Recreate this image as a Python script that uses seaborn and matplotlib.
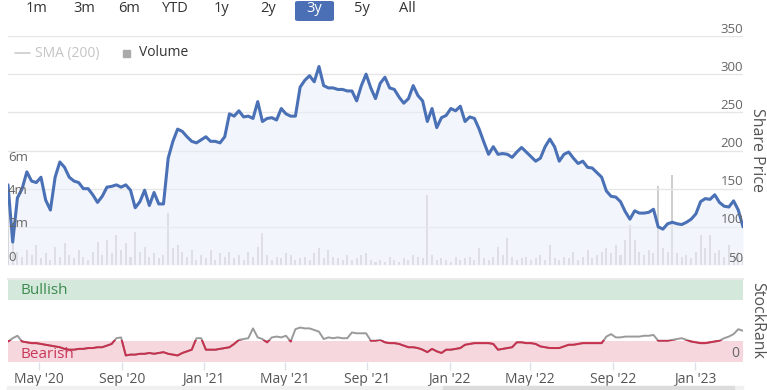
import matplotlib
matplotlib.use("Agg")
import matplotlib.pyplot as plt
import matplotlib.dates as mdates
from matplotlib.lines import Line2D
from matplotlib.patches import Rectangle, FancyBboxPatch
import numpy as np
import pandas as pd
import seaborn as sns

# weekly samples, starting mid March 2020
start_date = "2020-03-16"

share_price = [
    155, 80, 138, 150, 172, 160, 158, 165, 135, 122,
    165, 185, 178, 165, 160, 158, 150, 150, 142, 132,
    140, 152, 153, 155, 152, 155, 148, 125, 133, 148,
    128, 145, 130, 130, 190, 212, 228, 225, 218, 212,
    210, 214, 218, 212, 212, 210, 218, 248, 245, 252,
    244, 245, 242, 264, 238, 242, 243, 240, 255, 248,
    245, 245, 283, 292, 298, 290, 310, 285, 282, 282,
    280, 280, 278, 278, 265, 285, 300, 282, 268, 288,
    296, 282, 280, 270, 262, 268, 285, 272, 265, 238,
    255, 230, 243, 246, 255, 252, 258, 238, 244, 242,
    228, 211, 195, 205, 195, 196, 195, 191, 198, 204,
    198, 192, 186, 190, 205, 215, 205, 186, 195, 198,
    190, 183, 186, 178, 177, 171, 165, 147, 140, 139,
    133, 120, 110, 121, 118, 118, 119, 123, 100, 97,
    104, 106, 104, 103, 106, 110, 117, 133, 137, 136,
    142, 132, 127, 126, 134, 122, 100,
]

# weekly volume, millions of shares
volume_m = [
    4.0, 2.5, 0.8, 0.5, 0.9, 0.6, 1.2, 0.4, 0.7, 0.3,
    1.1, 0.5, 1.3, 0.6, 0.4, 0.9, 0.5, 0.3, 0.8, 1.4,
    0.6, 1.5, 0.7, 1.8, 0.9, 1.3, 0.5, 2.0, 0.8, 1.1,
    0.5, 0.7, 0.4, 0.6, 3.1, 1.0, 1.2, 0.8, 0.5, 0.9,
    0.3, 0.6, 0.4, 0.9, 0.3, 0.7, 0.5, 0.8, 0.4, 0.6,
    0.3, 0.8, 0.5, 1.1, 1.9, 0.6, 0.3, 0.5, 0.4, 0.7,
    0.6, 0.3, 0.4, 0.5, 0.3, 0.7, 1.0, 0.4, 0.9, 0.5,
    0.4, 0.3, 0.6, 0.3, 0.4, 0.6, 0.7, 0.3, 0.2, 0.3,
    0.2, 0.5, 0.3, 0.2, 0.4, 0.3, 0.6, 0.5, 0.4, 4.2,
    0.6, 0.3, 0.4, 0.3, 0.2, 0.5, 0.3, 0.4, 0.5, 0.3,
    1.0, 0.4, 0.3, 0.5, 1.1, 0.6, 1.6, 0.5, 0.3, 0.4,
    0.5, 0.3, 0.4, 0.6, 0.3, 1.2, 0.4, 0.3, 0.5, 0.4,
    0.8, 0.3, 0.5, 0.9, 0.4, 0.6, 0.8, 1.0, 0.7, 1.2,
    0.6, 1.5, 2.4, 1.5, 0.8, 0.6, 0.9, 0.7, 4.7, 1.0,
    0.8, 5.4, 0.7, 0.5, 0.6, 0.4, 0.8, 1.8, 1.0, 1.8,
    0.7, 0.9, 0.5, 1.2, 0.6, 0.8, 0.5,
]

stock_rank = [
    25, 29, 32, 25, 24, 23, 23, 22, 21, 20,
    19, 18, 16, 15, 15, 16, 16, 17, 17, 18,
    18, 20, 22, 29, 30, 8, 9, 9, 10, 10,
    11, 10, 11, 12, 10, 9, 8, 11, 13, 15,
    29, 29, 15, 15, 15, 16, 17, 18, 22, 27,
    28, 29, 41, 30, 28, 24, 30, 31, 30, 32,
    25, 40, 42, 41, 41, 39, 37, 28, 30, 29,
    30, 29, 29, 36, 35, 35, 35, 26, 26, 27,
    24, 23, 23, 22, 20, 18, 18, 17, 15, 12,
    16, 13, 11, 15, 15, 16, 17, 21, 22, 23,
    23, 23, 23, 22, 15, 16, 17, 18, 24, 24,
    23, 23, 22, 19, 18, 17, 17, 17, 19, 21,
    21, 22, 23, 23, 23, 23, 23, 31, 34, 30,
    30, 31, 31, 31, 31, 32, 32, 33, 26, 26,
    26, 27, 28, 29, 27, 25, 24, 23, 23, 24,
    25, 26, 29, 31, 34, 40, 38,
]

price_ticks = [50, 100, 150, 200, 250, 300, 350]
volume_ticks = [0, 2, 4, 6]
volume_tick_labels = ["0", "2m", "4m", "6m"]
range_buttons = ["1m", "3m", "6m", "YTD", "1y", "2y", "3y", "5y", "All"]
button_x = [37, 84, 129, 175, 222, 268, 314, 362, 407]
selected_range = "3y"

dates = pd.date_range(start_date, periods=len(share_price), freq="7D")
df = pd.DataFrame({"date": dates, "price": share_price,
                   "volume": volume_m, "rank": stock_rank})

sns.set_theme(style="white")
plt.rcParams["font.family"] = ["Open Sans", "DejaVu Sans"]

W, H = 767, 390
fig = plt.figure(figsize=(W / 100, H / 100), dpi=100)


def box(x0, y0, x1, y1):
    # pixel box (top-left origin) -> figure fraction rect
    return [x0 / W, 1 - y1 / H, (x1 - x0) / W, (y1 - y0) / H]


LINE_BLUE = "#4a70b6"
TXT = "#666666"
VOL_TOP = 13.7

# --- volume layer (bottom) ---
ax_v = fig.add_axes(box(8, 36, 743, 265))
ax_v.bar(df["date"], df["volume"], width=3, color="#cfcfcf", linewidth=0)
ax_v.set_ylim(0, VOL_TOP)
ax_v.set_xlim(dates[0], dates[-1])
ax_v.axis("off")

# --- price layer (top) ---
ax_p = fig.add_axes(box(8, 36, 743, 265))
ax_p.patch.set_visible(False)
ax_p.fill_between(df["date"], df["price"], 50, color="#e9eef8", alpha=0.55, lw=0)
sns.lineplot(data=df, x="date", y="price", ax=ax_p, color=LINE_BLUE, lw=2.2)
ax_p.set_xlim(dates[0], dates[-1])
ax_p.set_ylim(50, 350)
for v in price_ticks:
    ax_p.axhline(v, color="#e6e6e6", lw=1, zorder=0)
    ax_p.annotate(str(v), xy=(1, v), xycoords=("axes fraction", "data"),
                  xytext=(0, 5), textcoords="offset points",
                  ha="right", va="center", fontsize=9.5, color=TXT)
for v, lab in zip(volume_ticks, volume_tick_labels):
    ax_p.annotate(lab, xy=(0, v / VOL_TOP), xycoords="axes fraction",
                  xytext=(0, 5.5), textcoords="offset points",
                  ha="left", va="center", fontsize=9.5, color=TXT)
ax_p.set_xlabel("")
ax_p.set_ylabel("")
ax_p.tick_params(labelbottom=False, labelleft=False, bottom=False, left=False)
for s in ax_p.spines.values():
    s.set_visible(False)
fig.text(757 / W, 1 - 150 / H, "Share Price", rotation=-90, ha="center",
         va="center", fontsize=11.5, color="#555555")

# --- StockRank panel ---
ax_r = fig.add_axes(box(8, 279, 743, 362))
ax_r.set_ylim(0, 101.2)
ax_r.axhspan(75, 100, color="#d5e8dc", lw=0)
ax_r.axhspan(0, 25, color="#f5d7dd", lw=0)
sns.lineplot(data=df, x="date", y="rank", ax=ax_r, color="#9a9a9a", lw=1.4)
red = sns.lineplot(data=df, x="date", y="rank", ax=ax_r, color="#c8304e", lw=1.4).lines[-1]
clip = Rectangle((0, 0), 1, 27 / 101.2, transform=ax_r.transAxes,
                 facecolor="none", edgecolor="none")
ax_r.add_patch(clip)
red.set_clip_path(clip)
ax_r.text(12 / 735, 87.5, "Bullish", transform=ax_r.get_yaxis_transform(),
          fontsize=11, color="#3d8b4e", va="center")
ax_r.text(12 / 735, 9, "Bearish", transform=ax_r.get_yaxis_transform(),
          fontsize=11, color="#c8385a", va="center")
ax_r.annotate("0", xy=(1, 0), xycoords=("axes fraction", "data"),
              xytext=(-3, 6), textcoords="offset points",
              ha="right", va="center", fontsize=10, color=TXT)
ax_r.set_xlabel("")
ax_r.set_ylabel("")
ax_r.set_yticks([])
for name, s in ax_r.spines.items():
    s.set_visible(name == "top")
ax_r.spines["top"].set_color("#e6e6e6")
ax_r.set_xlim(dates[0], dates[-1])
ax_r.xaxis.set_major_locator(mdates.MonthLocator(bymonth=[1, 5, 9]))
ax_r.xaxis.set_major_formatter(mdates.DateFormatter("%b '%y"))
ax_r.tick_params(axis="x", bottom=True, length=6, width=1, color="#dde2ea",
                 pad=1.5, labelsize=10, labelcolor="#555555")
fig.text(757 / W, 1 - 320 / H, "StockRank", rotation=-90, ha="center",
         va="center", fontsize=11.5, color="#555555")

# --- range selector buttons ---
for lab, bx in zip(range_buttons, button_x):
    if lab == selected_range:
        fig.add_artist(FancyBboxPatch((295 / W, 1 - 21 / H), 39 / W, 20 / H,
                                      boxstyle="round,pad=0,rounding_size=0.004",
                                      transform=fig.transFigure,
                                      facecolor="#4b6fb5", edgecolor="none"))
        fig.text(bx / W, 1 - 9 / H, lab, ha="center", va="center",
                 fontsize=10.5, color="white")
    else:
        fig.text(bx / W, 1 - 9 / H, lab, ha="center", va="center",
                 fontsize=10.5, color="#333333")

# --- legend ---
fig.add_artist(Line2D([15 / W, 30 / W], [1 - 53 / H] * 2, color="#cccccc",
                      lw=1.2, transform=fig.transFigure))
fig.text(35 / W, 1 - 53 / H, "SMA (200)", ha="left", va="center",
         fontsize=10, color="#c4c4c4")
fig.add_artist(Rectangle((123 / W, 1 - 57 / H), 7 / W, 7 / H, color="#aaaaaa",
                         transform=fig.transFigure))
fig.text(139 / W, 1 - 53 / H, "Volume", ha="left", va="center",
         fontsize=10, color="#333333")

# --- navigator scrollbar remnant ---
fig.add_artist(Rectangle((7 / W, 0), 736 / W, 4 / H, color="#f0f0f0",
                         transform=fig.transFigure))
fig.add_artist(Rectangle((443 / W, 0), 291 / W, 4 / H, color="#dcdcdc",
                         transform=fig.transFigure))

fig.savefig("out.png", dpi=100)
